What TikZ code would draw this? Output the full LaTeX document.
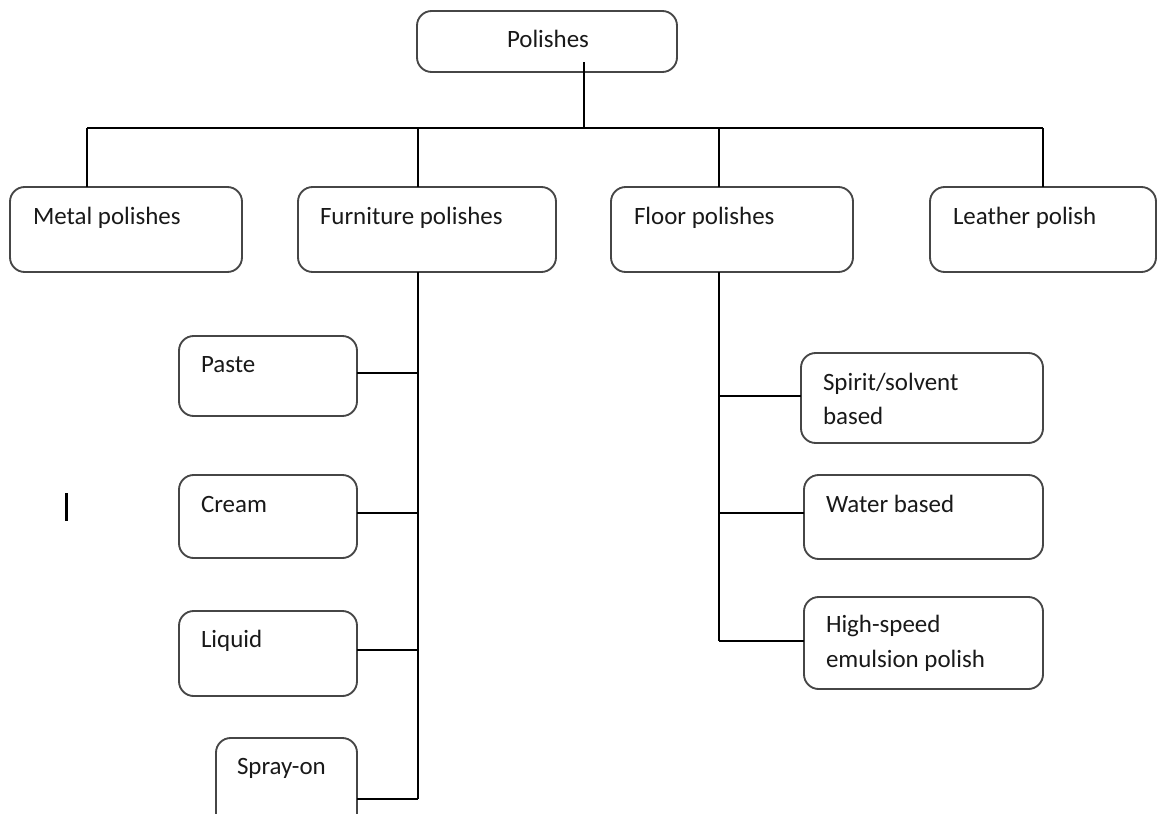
\documentclass[tikz,border=0pt]{standalone}
\usepackage{fontspec}
\setmainfont{Carlito}
\definecolor{boxline}{RGB}{70,70,70}
\definecolor{ink}{RGB}{25,25,25}
\tikzset{
  catbox/.style={draw=boxline, line width=1.4pt, rounded corners=11pt, fill=white,
                 inner sep=0pt, outer sep=0pt},
  lbl/.style={inner sep=0pt, outer sep=0pt, anchor=base west, text=ink,
              font=\fontsize{18.7}{22}\selectfont},
  conn/.style={draw=black, line width=1.1pt},
}
% rounded box given by its corners (x1,y1) and (x2,y2), in pixel units
\newcommand{\catbox}[5]{%
  \node[catbox, anchor=north west,
        minimum width={(#4-#2)*0.75pt}, minimum height={(#5-#3)*0.75pt}]
        (#1) at (#2,#3) {};}
\begin{document}
\begin{tikzpicture}[x=0.75pt, y=-0.75pt]
\clip (0,0) rectangle (1158,814);
\fill[white] (0,0) rectangle (1158,814);

% ---- boxes ----
\catbox{root}{417}{11}{677}{72}
\catbox{metal}{10}{187}{242}{272}
\catbox{furn}{298}{187}{556}{272}
\catbox{floor}{611}{187}{853}{272}
\catbox{leather}{930}{187}{1156}{272}
\catbox{paste}{179}{336}{357}{416}
\catbox{cream}{179}{475}{357}{558}
\catbox{liquid}{179}{611}{357}{696}
\catbox{spray}{216}{738}{357}{862}
\catbox{spirit}{801}{353}{1043}{443}
\catbox{water}{804}{475}{1043}{559}
\catbox{hispeed}{804}{597}{1043}{689}

% ---- junction points ----
\coordinate (stem)   at (584,62);
\coordinate (bus)    at (584,128);
\coordinate (jmetal) at (87,128);
\coordinate (jfurn)  at (418,128);
\coordinate (jfloor) at (719,128);
\coordinate (jleath) at (1043,128);
\coordinate (f1) at (418,373);
\coordinate (f2) at (418,513);
\coordinate (f3) at (418,650);
\coordinate (f4) at (418,799);
\coordinate (g1) at (719,396);
\coordinate (g2) at (719,513);
\coordinate (g3) at (719,641);

% ---- connectors ----
\draw[conn] (stem) -- (bus);
\draw[conn] (jmetal) -- (jleath);
\draw[conn] (jmetal) -- (jmetal |- metal.north);
\draw[conn] (jfurn)  -- (jfurn |- furn.north);
\draw[conn] (jfloor) -- (jfloor |- floor.north);
\draw[conn] (jleath) -- (jleath |- leather.north);

\draw[conn] (jfurn |- furn.south) -- (f4);
\draw[conn] (f1 -| paste.east)  -- (f1);
\draw[conn] (f2 -| cream.east)  -- (f2);
\draw[conn] (f3 -| liquid.east) -- (f3);
\draw[conn] (f4 -| spray.east)  -- (f4);

\draw[conn] (jfloor |- floor.south) -- (g3);
\draw[conn] (g1) -- (g1 -| spirit.west);
\draw[conn] (g2) -- (g2 -| water.west);
\draw[conn] (g3) -- (g3 -| hispeed.west);

% ---- labels ----
\node[lbl] (root-t)    at (507,47)  {Polishes};
\node[lbl] (metal-t)   at (33,224)  {Metal polishes};
\node[lbl] (furn-t)    at (320,224) {Furniture polishes};
\node[lbl] (floor-t)   at (634,224) {Floor polishes};
\node[lbl] (leather-t) at (953,224) {Leather polish};
\node[lbl] (paste-t)   at (201,372) {Paste};
\node[lbl] (cream-t)   at (201,512) {Cream};
\node[lbl] (liquid-t)  at (201,647) {Liquid};
\node[lbl] (spray-t)   at (237,774) {Spray-on};
\node[lbl] (spirit-t1) at (823,390) {Spirit/solvent};
\node[lbl] (spirit-t2) at (823,424) {based};
\node[lbl] (water-t)   at (826,512) {Water based};
\node[lbl] (hi-t1)     at (826,632) {High-speed};
\node[lbl] (hi-t2)     at (826,667) {emulsion polish};

% text cursor mark
\fill[black] (64.5,493) rectangle (67.5,521);
\end{tikzpicture}
\end{document}
